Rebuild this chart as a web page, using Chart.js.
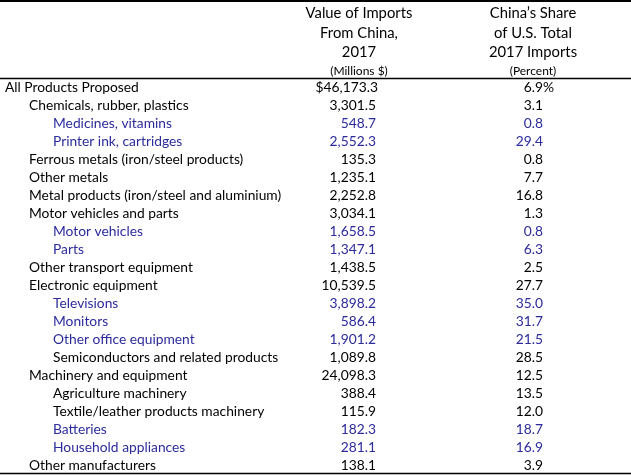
<!DOCTYPE html>
<html>
<head>
<meta charset="utf-8">
<script src="https://cdn.jsdelivr.net/npm/chart.js@4/dist/chart.umd.min.js"></script>
<style>
  html, body { margin: 0; padding: 0; background: #fff; }
  #wrap { position: relative; width: 631px; height: 476px; }
</style>
</head>
<body>
<div id="wrap"><canvas id="tableChart"></canvas></div>
<script>
// table rows
var categories = [
  'All Products Proposed',
  'Chemicals, rubber, plastics',
  'Medicines, vitamins',
  'Printer ink, cartridges',
  'Ferrous metals (iron/steel products)',
  'Other metals',
  'Metal products (iron/steel and aluminium)',
  'Motor vehicles and parts',
  'Motor vehicles',
  'Parts',
  'Other transport equipment',
  'Electronic equipment',
  'Televisions',
  'Monitors',
  'Other office equipment',
  'Semiconductors and related products',
  'Machinery and equipment',
  'Agriculture machinery',
  'Textile/leather products machinery',
  'Batteries',
  'Household appliances',
  'Other manufacturers'
];
// indent level of each row
var levels = [0, 1, 2, 2, 1, 1, 1, 1, 2, 2, 1, 1, 2, 2, 2, 2, 1, 2, 2, 2, 2, 1];
// rows shown in blue
var highlighted = [0, 0, 1, 1, 0, 0, 0, 0, 1, 1, 0, 0, 1, 1, 1, 0, 0, 0, 0, 1, 1, 0];
// Value of imports from China, 2017 (millions $)
var importValues = [46173.3, 3301.5, 548.7, 2552.3, 135.3, 1235.1, 2252.8, 3034.1, 1658.5, 1347.1,
  1438.5, 10539.5, 3898.2, 586.4, 1901.2, 1089.8, 24098.3, 388.4, 115.9, 182.3, 281.1, 138.1];
// China's share of U.S. total 2017 imports (percent)
var shareValues = [6.9, 3.1, 0.8, 29.4, 0.8, 7.7, 16.8, 1.3, 0.8, 6.3,
  2.5, 27.7, 35.0, 31.7, 21.5, 28.5, 12.5, 13.5, 12.0, 18.7, 16.9, 3.9];

var headValue = ['Value of Imports', 'From China,', '2017', '(Millions $)'];
var headShare = ['China\u2019s Share', 'of U.S. Total', '2017 Imports', '(Percent)'];

var FONT = 'Lato, "Open Sans", sans-serif';
var BLACK = '#000000';
var BLUE = '#2b2b9c';
// column anchors on the x scale (label left edge, value right edges)
var COL = { label: 5, value: 376, share: 543 };
var INDENT = 24;
var ROW_H = 18;
var FIRST_ROW = 92; // baseline of first row, px

function fmtValue(v, i) {
  var s = v.toLocaleString('en-US', { minimumFractionDigits: 1, maximumFractionDigits: 1 });
  return i == 0 ? '$' + s : s;
}
function fmtShare(v, i) {
  return v.toFixed(1) + (i == 0 ? '%' : '');
}

function makePoints(x) {
  var pts = [];
  for (var i = 0; i < categories.length; i++) {
    pts.push({ x: x, y: i });
  }
  return pts;
}

var tablePlugin = {
  id: 'tableText',
  afterDatasetsDraw: function (chart) {
    var ctx = chart.ctx;
    var xScale = chart.scales.x;
    var top = chart.chartArea.top;
    ctx.save();
    ctx.textBaseline = 'alphabetic';

    // header
    var hx1 = xScale.getPixelForValue(359);
    var hx2 = xScale.getPixelForValue(533);
    var hy = [18, 37.5, 57, 75];
    ctx.textAlign = 'center';
    ctx.fillStyle = BLACK;
    for (var h = 0; h < 4; h++) {
      ctx.font = (h == 3 ? '12px ' : '14.8px ') + FONT;
      ctx.fillText(headValue[h], hx1, top + hy[h]);
      ctx.fillText(headShare[h], hx2, top + hy[h]);
    }

    // rules
    ctx.strokeStyle = '#000';
    [[1, 2], [78.5, 1.5], [473.5, 1.5]].forEach(function (r) {
      ctx.lineWidth = r[1];
      ctx.beginPath();
      ctx.moveTo(chart.chartArea.left, top + r[0]);
      ctx.lineTo(chart.chartArea.right, top + r[0]);
      ctx.stroke();
    });

    // cells
    ctx.font = '13.8px ' + FONT;
    chart.data.datasets.forEach(function (ds, d) {
      var meta = chart.getDatasetMeta(d);
      meta.data.forEach(function (pt, i) {
        ctx.fillStyle = highlighted[i] ? BLUE : BLACK;
        if (ds.label == 'Category') {
          ctx.textAlign = 'left';
          ctx.fillText(categories[i], pt.x + levels[i] * INDENT, pt.y);
        } else if (ds.label == 'Value') {
          ctx.textAlign = 'right';
          ctx.fillText(fmtValue(importValues[i], i), pt.x + (i == 0 ? 2 : 0), pt.y);
        } else {
          // align on the number, let the % hang over
          ctx.textAlign = 'left';
          var w = ctx.measureText(shareValues[i].toFixed(1)).width;
          ctx.fillText(fmtShare(shareValues[i], i), pt.x - w, pt.y);
        }
      });
    });
    ctx.restore();
  }
};

var tableChart = new Chart(document.getElementById('tableChart'), {
  type: 'scatter',
  data: {
    datasets: [
      { label: 'Category', data: makePoints(COL.label), pointRadius: 0 },
      { label: 'Value', data: makePoints(COL.value), pointRadius: 0 },
      { label: 'Share', data: makePoints(COL.share), pointRadius: 0 }
    ]
  },
  options: {
    responsive: true,
    maintainAspectRatio: false,
    animation: false,
    layout: { padding: 0 },
    plugins: { legend: { display: false }, tooltip: { enabled: false } },
    scales: {
      x: { type: 'linear', display: false, min: 0, max: 631 },
      y: { type: 'linear', display: false, reverse: true,
        min: -FIRST_ROW / ROW_H, max: (476 - FIRST_ROW) / ROW_H }
    }
  },
  plugins: [tablePlugin]
});
</script>
</body>
</html>
